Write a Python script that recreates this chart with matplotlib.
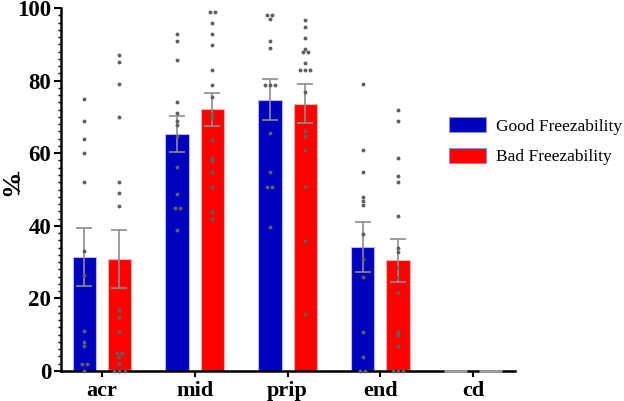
import numpy as np
import matplotlib
matplotlib.use('Agg')
import matplotlib.pyplot as plt
from matplotlib.patches import Patch

categories = ['acr', 'mid', 'prip', 'end', 'cd']
series_names = ['Good Freezability', 'Bad Freezability']

# individual points (%)
good_acr = [75, 69, 64, 60, 52, 33, 26.5, 11, 8, 7, 2, 2, 0]
bad_acr = [87, 85, 79, 70, 52, 49, 45.5, 16.7, 14.8, 10.8, 4.9, 4.9, 3.8, 1.8, 0, 0, 0]
good_mid = [92.8, 90.8, 85.8, 74, 71, 69, 67.9, 64.7, 56.3, 48.8, 44.8, 44.8, 38.8]
bad_mid = [98.8, 98.8, 95.8, 92.8, 89.8, 82.9, 78.8, 75.6, 70.7, 69.7, 63.7, 58.8, 57.8,
           54.7, 50.8, 43.9, 41.8]
good_prip = [98, 98, 97, 90.8, 88.9, 78.8, 78.8, 78.8, 65.7, 54.7, 50.8, 50.8, 39.8]
bad_prip = [96.8, 94.9, 91.8, 88.8, 87.8, 87.8, 84.8, 82.8, 82.8, 82.8, 76.8, 66.2, 64.8,
            60.8, 50.8, 35.8, 15.8]
good_end = [79.1, 60.8, 54.7, 47.8, 46.7, 45.8, 37.8, 30.9, 25.8, 10.8, 3.9, 0, 0]
bad_end = [71.8, 68.8, 58.8, 53.8, 52.2, 42.8, 33.8, 32.9, 28.7, 25.8, 21.8, 10.8, 9.8,
           6.8, 0, 0, 0]
cd_value = 0.0

good_points = [good_acr, good_mid, good_prip, good_end]
bad_points = [bad_acr, bad_mid, bad_prip, bad_end]

yticks = [0, 20, 40, 60, 80, 100]

BLUE = '#0000BF'
RED = '#FF0000'
DOT = '#606060'
ERR = '#8c8c8c'

def stats(pts):
    a = np.asarray(pts, float)
    return a.mean(), a.std(ddof=1) / np.sqrt(len(a))

good_means = [stats(p)[0] for p in good_points] + [cd_value]
good_sems = [stats(p)[1] for p in good_points] + [0.0]
bad_means = [stats(p)[0] for p in bad_points] + [cd_value]
bad_sems = [stats(p)[1] for p in bad_points] + [0.0]

fig = plt.figure(figsize=(6.24, 4.01), dpi=100)
ax = fig.add_axes([61/624, 1 - 371/401, (515 - 61)/624, (371 - 8)/401])

x = np.arange(len(categories))
off = 0.19
w = 0.25

serif = ['Liberation Serif', 'DejaVu Serif']

for i in range(len(categories)):
    for sign, means, sems, col, edge in [(-1, good_means, good_sems, BLUE, '#b8b8f0'),
                                         (1, bad_means, bad_sems, RED, '#ffb0b0')]:
        xc = x[i] + sign * off
        if means[i] == 0:
            ax.bar(xc, 0.0, width=w, color='none', edgecolor='#a0a0a0', linewidth=2.0,
                   zorder=5, clip_on=False)
        else:
            ax.bar(xc, means[i], width=w, color=col, edgecolor=edge, linewidth=0.8, zorder=2)
            ax.errorbar(xc, means[i], yerr=sems[i], color=ERR, capsize=6, capthick=1.2,
                        elinewidth=1.2, zorder=3, fmt='none')

# scatter points with side-by-side placement for equal values
for i in range(len(good_points)):
    for sign, pts in [(-1, good_points[i]), (1, bad_points[i])]:
        xc = x[i] + sign * off
        vals = np.asarray(pts, float)
        uniq, counts = np.unique(vals, return_counts=True)
        for u, c in zip(uniq, counts):
            offs = (np.arange(c) - (c - 1) / 2) * 0.055
            ax.scatter(xc + offs, np.full(c, u), s=8, color=DOT, zorder=4,
                       linewidths=0, clip_on=False)

ax.set_xlim(-0.44, 4.45)
ax.set_ylim(0, 100)
ax.set_xticks(x)
ax.set_xticklabels(categories, fontfamily=serif, fontweight='bold', fontsize=16)
ax.set_yticks(yticks)
ax.set_yticklabels([str(t) for t in yticks], fontfamily=serif, fontweight='bold', fontsize=16.5)
ax.set_yticks(np.arange(0, 101, 2), minor=True)
ax.tick_params(axis='y', which='major', length=5, width=1.5, pad=2)
ax.tick_params(axis='y', which='minor', length=2.5, width=1.0)
ax.tick_params(axis='x', which='major', length=4, width=1.5, pad=3)

for s in ['top', 'right']:
    ax.spines[s].set_visible(False)
ax.spines['left'].set_linewidth(1.8)
ax.spines['bottom'].set_linewidth(1.8)

fig.text(12/624, 1 - 183/401, '%', rotation=90, ha='center', va='center',
         fontfamily=serif, fontweight='bold', fontsize=19)
# underline of the rotated label
fig.add_artist(plt.Line2D([17.5/624, 17.5/624], [1 - 194/401, 1 - 172/401],
                          color='black', linewidth=1.0))

handles = [Patch(facecolor=BLUE, edgecolor='#9090d0', linewidth=0.8),
           Patch(facecolor=RED, edgecolor='#9090d0', linewidth=0.8)]
fig.legend(handles, series_names, loc='upper left', bbox_to_anchor=(444/624, 1 - 112/401),
           frameon=False, prop={'family': serif, 'size': 12.5},
           handlelength=2.1, handleheight=0.95, labelspacing=0.75, handletextpad=0.6,
           borderaxespad=0, borderpad=0.3)

fig.savefig('out.png', dpi=100)
